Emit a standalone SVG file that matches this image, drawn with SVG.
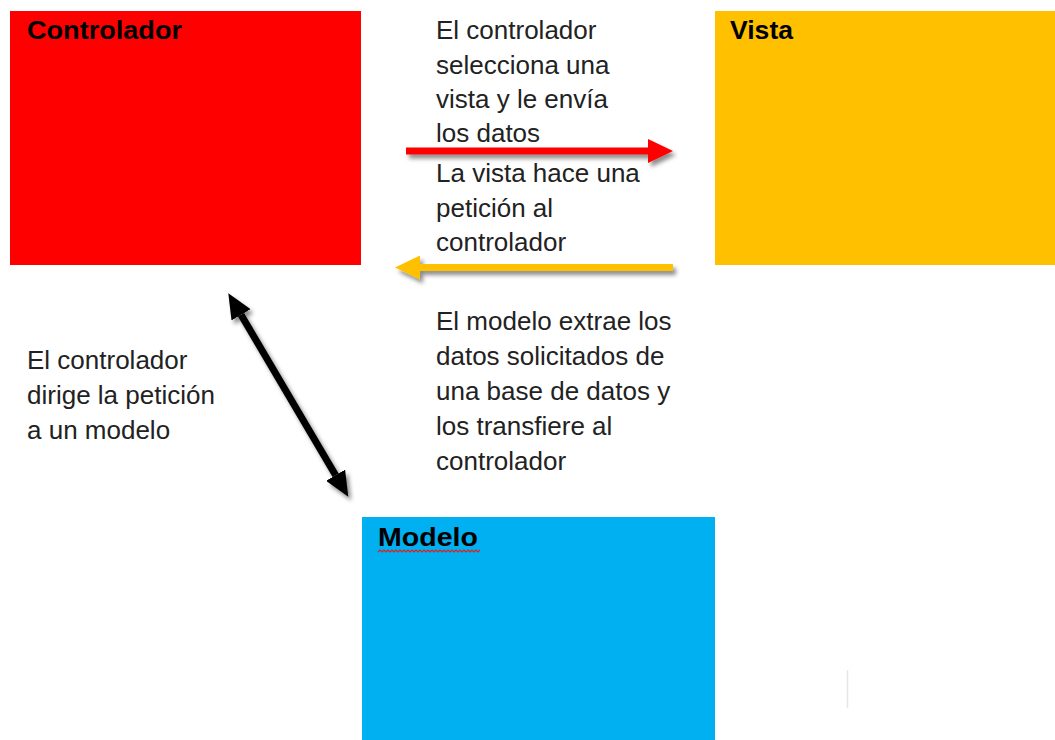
<svg xmlns="http://www.w3.org/2000/svg" width="1055" height="740" viewBox="0 0 1055 740">
  <style>
    .title { font-family: "Liberation Sans", Arial, sans-serif; font-weight: bold; font-size: 26px; fill: #000; }
    .body { font-family: "Liberation Sans", Arial, sans-serif; font-size: 26px; fill: #222; }
  </style>
  <defs>
    <filter id="shadow" filterUnits="userSpaceOnUse" x="0" y="0" width="1055" height="740">
      <feDropShadow dx="3" dy="4" stdDeviation="2.2" flood-color="#000" flood-opacity="0.45"/>
    </filter>
    <marker id="headRed" markerUnits="userSpaceOnUse" viewBox="0 -12 25 24" refX="0" refY="0" markerWidth="25" markerHeight="24" orient="auto">
      <path d="M0,-12 L25,0 L0,12 z" fill="#FF0000"/>
    </marker>
    <marker id="headYellow" markerUnits="userSpaceOnUse" viewBox="0 -12 25 24" refX="0" refY="0" markerWidth="25" markerHeight="24" orient="auto">
      <path d="M0,-12 L25,0 L0,12 z" fill="#FFC000"/>
    </marker>
    <marker id="headBlack" markerUnits="userSpaceOnUse" viewBox="0 -11 25 22" refX="0" refY="0" markerWidth="25" markerHeight="22" orient="auto-start-reverse">
      <path d="M0,-11 L25,0 L0,11 z" fill="#000"/>
    </marker>
  </defs>
  <rect width="1055" height="740" fill="#fff"/>

  <g id="controlador">
    <rect x="10" y="11" width="351" height="254" fill="#FF0000"/>
    <text class="title" x="27" y="39" textLength="155" lengthAdjust="spacingAndGlyphs">Controlador</text>
  </g>

  <g id="vista">
    <rect x="715" y="11" width="340" height="254" fill="#FFC000"/>
    <text class="title" x="730" y="39" textLength="63" lengthAdjust="spacingAndGlyphs">Vista</text>
  </g>

  <g id="modelo">
    <rect x="362" y="517" width="353" height="223" fill="#00B0F0"/>
    <text class="title" x="378" y="546" textLength="100" lengthAdjust="spacingAndGlyphs">Modelo</text>
    <path d="M378,552 l2,-2 l2,2 l2,-2 l2,2 l2,-2 l2,2 l2,-2 l2,2 l2,-2 l2,2 l2,-2 l2,2 l2,-2 l2,2 l2,-2 l2,2 l2,-2 l2,2 l2,-2 l2,2 l2,-2 l2,2 l2,-2 l2,2 l2,-2 l2,2 l2,-2 l2,2 l2,-2 l2,2 l2,-2 l2,2 l2,-2 l2,2 l2,-2 l2,2 l2,-2 l2,2 l2,-2 l2,2 l2,-2 l2,2 l2,-2 l2,2 l2,-2 l2,2 l2,-2 l2,2 l2,-2 l2,2 l2,-2" fill="none" stroke="#E02020" stroke-width="1.2"/>
  </g>

  <g id="connectors" filter="url(#shadow)">
    <line x1="406" y1="151" x2="648" y2="151" stroke="#FF0000" stroke-width="7" marker-end="url(#headRed)"/>
    <line x1="673" y1="267.5" x2="420" y2="267.5" stroke="#FFC000" stroke-width="7" marker-end="url(#headYellow)"/>
    <line x1="241" y1="314.8" x2="335.6" y2="475.2" stroke="#000" stroke-width="7" marker-start="url(#headBlack)" marker-end="url(#headBlack)"/>
  </g>

  <g id="label-envia">
    <text class="body" x="436" y="39">El controlador</text>
    <text class="body" x="436" y="74">selecciona una</text>
    <text class="body" x="436" y="108">vista y le envía</text>
    <text class="body" x="436" y="142">los datos</text>
  </g>

  <g id="label-peticion">
    <text class="body" x="436" y="182">La vista hace una</text>
    <text class="body" x="436" y="217">petición al</text>
    <text class="body" x="436" y="251">controlador</text>
  </g>

  <g id="label-modelo">
    <text class="body" x="436" y="330">El modelo extrae los</text>
    <text class="body" x="436" y="365">datos solicitados de</text>
    <text class="body" x="436" y="400">una base de datos y</text>
    <text class="body" x="436" y="435">los transfiere al</text>
    <text class="body" x="436" y="470">controlador</text>
  </g>

  <g id="label-dirige">
    <text class="body" x="27" y="369">El controlador</text>
    <text class="body" x="27" y="404">dirige la petición</text>
    <text class="body" x="27" y="439">a un modelo</text>
  </g>

  <line x1="847.5" y1="670" x2="847.5" y2="708" stroke="#e6e6e6" stroke-width="1.5"/>
</svg>
